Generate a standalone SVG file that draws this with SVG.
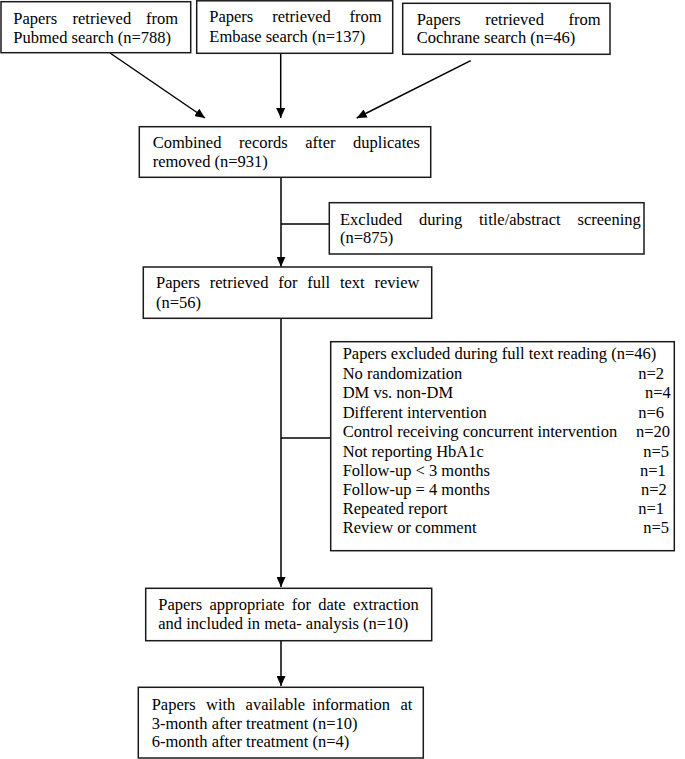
<svg xmlns="http://www.w3.org/2000/svg" width="685" height="759" viewBox="0 0 685 759">
<style>
.box{fill:#fff;stroke:#1a1a1a;stroke-width:1.5}
text{font-family:"Liberation Serif","Times New Roman",serif;font-size:16.5px;fill:#000}
.ln{stroke:#000;stroke-width:1.5;fill:none}
</style>
<defs>
<marker id="ah" markerUnits="userSpaceOnUse" markerWidth="10" markerHeight="9" refX="10" refY="4.5" orient="auto">
<path d="M0,0 L10,4.5 L0,9 z" fill="#000"/>
</marker>
</defs>
<rect width="685" height="759" fill="#fff"/>
<g id="connectors">
<line class="ln" x1="110" y1="53" x2="205" y2="118" marker-end="url(#ah)"/>
<line class="ln" x1="280.7" y1="53" x2="280.7" y2="118" marker-end="url(#ah)"/>
<line class="ln" x1="470.7" y1="60.7" x2="356.7" y2="118" marker-end="url(#ah)"/>
<line class="ln" x1="281" y1="177.3" x2="281" y2="266.7" marker-end="url(#ah)"/>
<line class="ln" x1="281" y1="224" x2="329.3" y2="224"/>
<line class="ln" x1="281" y1="318.3" x2="281" y2="587" marker-end="url(#ah)"/>
<line class="ln" x1="281" y1="438" x2="330.7" y2="438"/>
<line class="ln" x1="281" y1="640.7" x2="281" y2="686" marker-end="url(#ah)"/>
</g>
<g id="pubmed">
<rect class="box" x="1" y="1.7" width="189.7" height="51"/>
<text y="24"><tspan x="13.3">Papers</tspan><tspan x="72.5">retrieved</tspan><tspan x="146">from</tspan></text>
<text x="13.3" y="42.7">Pubmed search (n=788)</text>
</g>
<g id="embase">
<rect class="box" x="196.7" y="0.8" width="196" height="52.5"/>
<text y="21.7"><tspan x="209.3">Papers</tspan><tspan x="272.2">retrieved</tspan><tspan x="349.6">from</tspan></text>
<text x="209.3" y="41.7">Embase search (n=137)</text>
</g>
<g id="cochrane">
<rect class="box" x="402.7" y="3.3" width="207.3" height="51"/>
<text y="25"><tspan x="416.7">Papers</tspan><tspan x="485.3">retrieved</tspan><tspan x="568.6">from</tspan></text>
<text x="416.7" y="43.3">Cochrane search (n=46)</text>
</g>
<g id="combined">
<rect class="box" x="139.3" y="126.7" width="291.4" height="50.6"/>
<text y="148.3"><tspan x="152.7">Combined</tspan><tspan x="239.1">records</tspan><tspan x="305.3">after</tspan><tspan x="353.1">duplicates</tspan></text>
<text x="152.7" y="166.7">removed (n=931)</text>
</g>
<g id="excluded-screening">
<rect class="box" x="329.3" y="202.7" width="314.7" height="51.3"/>
<text y="225"><tspan x="340">Excluded</tspan><tspan x="419.1">during</tspan><tspan x="479">title/abstract</tspan><tspan x="577.5">screening</tspan></text>
<text x="340" y="243.3">(n=875)</text>
</g>
<g id="fulltext">
<rect class="box" x="143.3" y="267" width="288.4" height="51.3"/>
<text y="288.3"><tspan x="156">Papers</tspan><tspan x="209.8">retrieved</tspan><tspan x="278.2">for</tspan><tspan x="307.2">full</tspan><tspan x="339.9">text</tspan><tspan x="374.5">review</tspan></text>
<text x="156" y="308.3">(n=56)</text>
</g>
<g id="excluded-fulltext">
<rect class="box" x="330.7" y="341.7" width="343.6" height="209"/>
<text x="342.7" y="358.5">Papers excluded during full text reading (n=46)</text>
<text x="342.7" y="378.5">No randomization</text><text x="638.3" y="378.5">n=2</text>
<text x="342.7" y="398.3">DM vs. non-DM</text><text x="645" y="398.3">n=4</text>
<text x="342.7" y="418">Different intervention</text><text x="638.3" y="418">n=6</text>
<text x="342.7" y="437.3">Control receiving concurrent intervention</text><text x="636" y="437.3">n=20</text>
<text x="342.7" y="456.5">Not reporting HbA1c</text><text x="643.3" y="456.5">n=5</text>
<text x="342.7" y="475.7">Follow-up &lt; 3 months</text><text x="640" y="475.7">n=1</text>
<text x="342.7" y="494.8">Follow-up = 4 months</text><text x="641" y="494.8">n=2</text>
<text x="342.7" y="513.6">Repeated report</text><text x="638.3" y="513.6">n=1</text>
<text x="342.7" y="532.7">Review or comment</text><text x="643.3" y="532.7">n=5</text>
</g>
<g id="included">
<rect class="box" x="145.7" y="588.3" width="286" height="52.4"/>
<text y="610"><tspan x="158.3">Papers</tspan><tspan x="209.5">appropriate</tspan><tspan x="291.8">for</tspan><tspan x="318.2">date</tspan><tspan x="352.9">extraction</tspan></text>
<text x="158.3" y="629.3">and included in meta- analysis (n=10)</text>
</g>
<g id="available">
<rect class="box" x="138.3" y="687.3" width="285" height="70.7"/>
<text y="710"><tspan x="151.7">Papers</tspan><tspan x="206">with</tspan><tspan x="245.6">available</tspan><tspan x="312.2">information</tspan><tspan x="400.4">at</tspan></text>
<text x="151.7" y="728.5">3-month after treatment (n=10)</text>
<text x="151.7" y="747.3">6-month after treatment (n=4)</text>
</g>
</svg>
